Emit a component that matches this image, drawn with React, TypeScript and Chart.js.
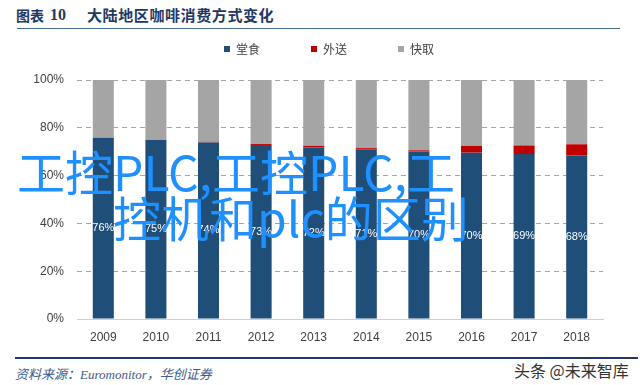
import React, { useEffect, useRef } from 'react';
import { Chart, registerables } from 'chart.js';

Chart.register(...registerables);

const years = ['2009', '2010', '2011', '2012', '2013', '2014', '2015', '2016', '2017', '2018'];
const dineIn = [75.8, 74.9, 73.9, 72.8, 71.7, 70.9, 70.1, 69.6, 69.0, 68.4];
const delivery = [0, 0, 0.2, 0.4, 0.7, 0.6, 0.5, 2.8, 3.6, 4.7];
const takeaway = [24.2, 25.1, 25.9, 26.8, 27.6, 28.5, 29.4, 27.6, 27.4, 26.9];
const seriesNames = ['堂食', '外送', '快取'];
const yTicks = [0, 20, 40, 60, 80, 100];

const TICK_FONT = '"Liberation Sans", Arial, sans-serif';
const CJK_FONT = '"Noto Sans CJK SC", "Liberation Sans", sans-serif';

const barLabelPlugin = {
  id: 'barLabels',
  afterDatasetsDraw(chart: any) {
    const meta = chart.getDatasetMeta(0);
    const ctx = chart.ctx;
    ctx.save();
    ctx.fillStyle = '#ffffff';
    ctx.font = '11px ' + TICK_FONT;
    ctx.textAlign = 'center';
    ctx.textBaseline = 'middle';
    meta.data.forEach((bar: any, i: number) => {
      const p = bar.getProps(['x', 'y', 'base'], true);
      ctx.fillText(Math.round(dineIn[i]) + '%', p.x, (p.y + p.base) / 2);
    });
    ctx.restore();
  },
};

function CoffeeChart() {
  const ref = useRef<HTMLCanvasElement | null>(null);
  useEffect(() => {
    if (!ref.current) return;
    const chart = new Chart(ref.current, {
      type: 'bar',
      data: {
        labels: years,
        datasets: [
          { label: seriesNames[0], data: dineIn, backgroundColor: '#1f4e79', borderWidth: 0 },
          { label: seriesNames[1], data: delivery, backgroundColor: '#c00000', borderWidth: 0 },
          { label: seriesNames[2], data: takeaway, backgroundColor: '#a5a5a5', borderWidth: 0 },
        ],
      },
      options: {
        animation: false,
        responsive: false,
        devicePixelRatio: 1,
        datasets: { bar: { barPercentage: 0.4, categoryPercentage: 1 } },
        layout: { padding: { left: 18, right: 0, top: 0, bottom: 0 } },
        plugins: {
          tooltip: { enabled: false },
          legend: {
            position: 'top',
            labels: {
              boxWidth: 6,
              boxHeight: 6,
              padding: 51,
              color: '#404040',
              font: { size: 12, family: CJK_FONT },
            },
          },
        },
        scales: {
          x: {
            stacked: true,
            grid: { display: false, drawTicks: false },
            border: { display: true, color: '#d0d0d0', width: 1 },
            ticks: { color: '#404040', font: { size: 12, family: TICK_FONT }, padding: 11, maxRotation: 0 },
            afterFit: (s: any) => { s.height = 33; },
          },
          y: {
            stacked: true,
            min: 0,
            max: 100,
            afterBuildTicks: (s: any) => { s.ticks = yTicks.map((v) => ({ value: v })); },
            grid: {
              drawTicks: false,
              color: (c: any) => (c.tick && c.tick.value === 0 ? 'rgba(0,0,0,0)' : '#a6a6a6'),
              lineWidth: 1,
            },
            border: { display: false, dash: [5, 4] },
            ticks: {
              color: '#404040',
              font: { size: 12, family: TICK_FONT },
              padding: 13,
              callback: (v: any) => v + '%',
            },
            afterFit: (s: any) => { s.width = 59; },
          },
          yR: {
            type: 'linear',
            axis: 'y',
            position: 'right',
            display: true,
            grid: { display: false, drawTicks: false },
            border: { display: false },
            ticks: { display: false },
            afterFit: (s: any) => { s.width = 37; },
          },
          xT: {
            type: 'linear',
            axis: 'x',
            position: 'top',
            display: true,
            grid: { display: false, drawTicks: false },
            border: { display: false },
            ticks: { display: false },
            afterFit: (s: any) => { s.height = 15; },
          },
        },
      } as any,
      plugins: [barLabelPlugin],
    });
    return () => chart.destroy();
  }, []);
  return (
    <canvas
      ref={ref}
      width={640}
      height={360}
      style={{ position: 'absolute', left: 0, top: -8, width: 640, height: 360 }}
    />
  );
}

export default function App() {
  const overlay: React.CSSProperties = {
    position: 'absolute',
    fontFamily: CJK_FONT,
    fontSize: 48,
    lineHeight: '48px',
    color: '#1e90ff',
    whiteSpace: 'nowrap',
    zIndex: 5,
  };
  return (
    <div
      style={{
        position: 'fixed',
        left: 0,
        top: 0,
        width: 640,
        height: 385,
        background: '#ffffff',
        overflow: 'hidden',
      }}
    >
      <div style={{ position: 'absolute', left: 16, top: 5, fontFamily: CJK_FONT, fontWeight: 'bold', fontSize: 14, lineHeight: '20px', color: '#1f3864' }}>图表</div>
      <div style={{ position: 'absolute', left: 50, top: 5, fontFamily: '"Liberation Serif", serif', fontWeight: 'bold', fontSize: 16, lineHeight: '20px', color: '#1f3864' }}>10</div>
      <div style={{ position: 'absolute', left: 87, top: 5, fontFamily: CJK_FONT, fontWeight: 'bold', fontSize: 15, letterSpacing: 0.6, lineHeight: '20px', color: '#1f3864', whiteSpace: 'nowrap' }}>大陆地区咖啡消费方式变化</div>
      <div style={{ position: 'absolute', left: 17, top: 28, width: 603, height: 1, background: '#4a6f96' }} />
      <CoffeeChart />
      <div style={{ ...overlay, left: 17, top: 146 }}>工控PLC,工控PLC,工</div>
      <div style={{ ...overlay, left: 113, top: 192 }}>控机和plc的区别</div>
      <div style={{ position: 'absolute', left: 15, top: 357, width: 623, height: 2, background: '#1f3864' }} />
      <div style={{ position: 'absolute', left: 15, top: 366, fontFamily: '"Liberation Serif", "Noto Sans CJK SC", serif', fontStyle: 'italic', fontSize: 13, lineHeight: '18px', color: '#3b5b8c', whiteSpace: 'nowrap' }}>资料来源：Euromonitor，华创证券</div>
      <div style={{ position: 'absolute', left: 514, top: 359, fontFamily: CJK_FONT, fontSize: 16, lineHeight: '22px', color: '#333333', whiteSpace: 'nowrap' }}>头条 @未来智库</div>
    </div>
  );
}
